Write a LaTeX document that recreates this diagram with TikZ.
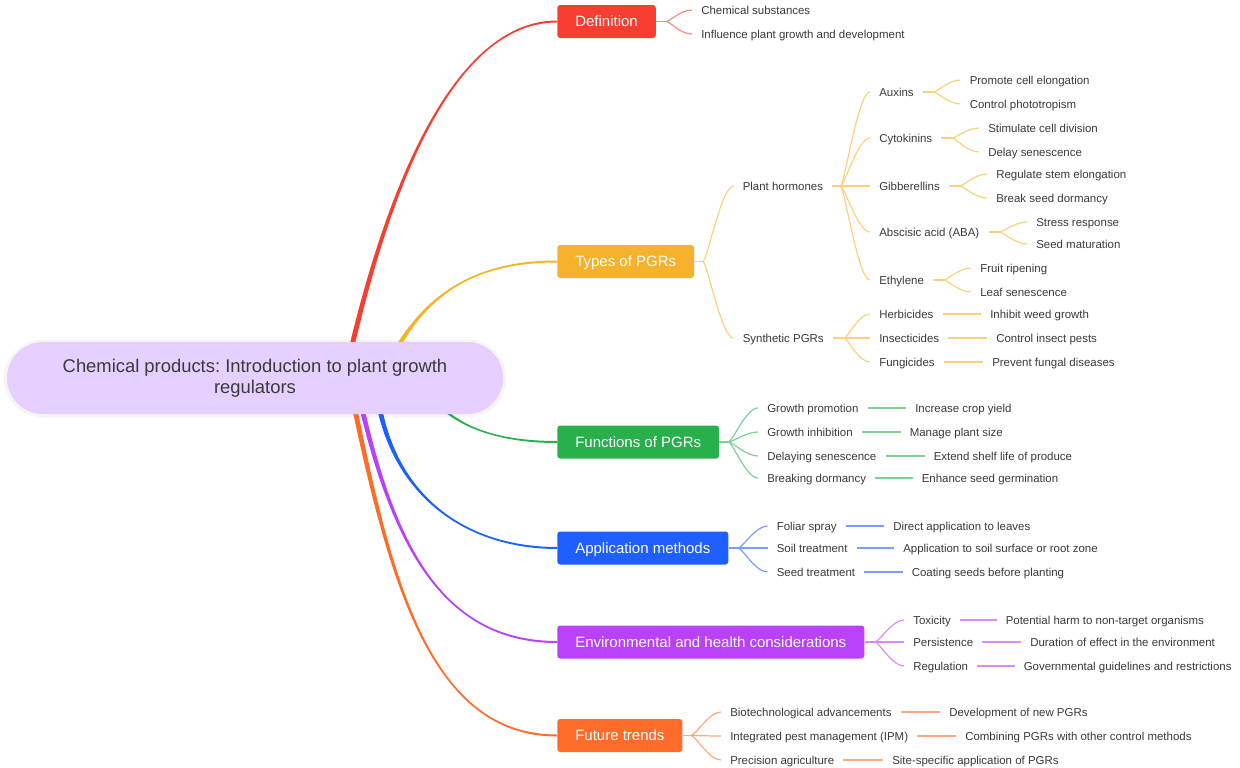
\documentclass[tikz,border=0pt]{standalone}
\usepackage{fontspec}
\setmainfont{Liberation Sans}
\usetikzlibrary{calc}
\frenchspacing
\definecolor{cred}{RGB}{247,62,49}
\definecolor{cyel}{RGB}{246,178,42}
\definecolor{cgrn}{RGB}{40,176,76}
\definecolor{cblu}{RGB}{30,95,255}
\definecolor{cpur}{RGB}{185,65,248}
\definecolor{cora}{RGB}{255,108,42}
\definecolor{rootfill}{RGB}{230,208,255}
\definecolor{txt}{RGB}{58,58,58}
% colour, start, control 1, control 2, end node, end offset A, end offset B
\newcommand\mainbranch[7]{%
  \fill[#1] ($(#2)+(-2.6,0)$) .. controls ($(#3)+(-1.6,0)$) and ($(#4)+(#6)$) .. ($(#5.west)+(#6)$)
    -- ($(#5.west)+(#7)$) .. controls ($(#4)+(#7)$) and ($(#3)+(1.6,0)$) .. ($(#2)+(2.6,0)$) -- cycle;}
\begin{document}
\begin{tikzpicture}[x=0.75pt,y=-0.75pt,
  leaf/.style={anchor=west, inner xsep=6.75pt, inner ysep=2pt, text=txt,
    text height=6.2pt, text depth=0.2pt,
    font=\fontsize{8.6pt}{10pt}\selectfont},
  box/.style={anchor=west, fill=#1, text=white, rounded corners=2.25pt, inner xsep=13.5pt,
    text height=8pt, text depth=0pt,
    minimum height=24.75pt, font=\fontsize{11.25pt}{13pt}\selectfont},
  lk/.style={draw=#1!60, line width=0.9pt},
]
\useasboundingbox (0,0) rectangle (1240,768);

% root shadow
\node[fill=black!4, rounded corners=29pt, minimum width=377pt, minimum height=58pt] (rootshadow) at (255,378.5) {};

% branch boxes
\node[box=cred] (def) at (557,21.5) {Definition};
\node[box=cyel] (typ) at (557,261.5) {Types of PGRs};
\node[box=cgrn] (fun) at (557,442) {Functions of PGRs};
\node[box=cblu] (app) at (557,548) {Application methods};
\node[box=cpur] (env) at (557,642) {Environmental and health considerations};
\node[box=cora] (fut) at (557,735.5) {Future trends};

% main curves (start points lie under the root)
\coordinate (s1) at (351,350);
\coordinate (s2) at (396,350);
\coordinate (s3) at (430,395);
\coordinate (s4) at (378,400);
\coordinate (s5) at (360,400);
\coordinate (s6) at (353,400);
\mainbranch{cred}{s1}{400,140}{470,21.5}{def}{0,-1}{0,1}
\mainbranch{cyel}{s2}{430,290}{480,261.5}{typ}{0,-1}{0,1}
\mainbranch{cgrn}{s3}{455,428}{500,442}{fun}{0,1}{0,-1}
\mainbranch{cblu}{s4}{395,500}{470,548}{app}{0,1}{0,-1}
\mainbranch{cpur}{s5}{392,540}{440,642}{env}{0,1}{0,-1}
\mainbranch{cora}{s6}{390,580}{430,735.5}{fut}{0,1}{0,-1}

% root
\node[fill=rootfill, rounded corners=27pt, minimum width=372pt, minimum height=54pt, text=txt,
  align=center, font=\fontsize{13.8pt}{15.75pt}\selectfont] (root) at (255,378)
  {Chemical products: Introduction to plant growth\\regulators};

% ---------- Definition ----------
\node[leaf] (d1) at (692,10) {Chemical substances};
\node[leaf] (d2) at (692,34) {Influence plant growth and development};
\coordinate (defF) at ($(def.east)+(10,0)$);
\draw[lk=cred] (def.east) -- (defF);
\foreach \c in {d1,d2} \draw[lk=cred] (defF) .. controls +(4,0) and +(-12,0) .. (\c.west);

% ---------- Types of PGRs ----------
\node[leaf] (ph) at (733.5,186) {Plant hormones};
\node[leaf] (sy) at (733.5,338) {Synthetic PGRs};
\coordinate (typF) at ($(typ.east)+(8.5,0)$);
\draw[lk=cyel] (typ.east) -- (typF);
\foreach \c in {ph,sy} \draw[lk=cyel] (typF) .. controls +(4,0) and +(-12,0) .. (\c.west);

\node[leaf] (aux) at (870,92) {Auxins};
\node[leaf] (cyt) at (870,138) {Cytokinins};
\node[leaf] (gib) at (870,186) {Gibberellins};
\node[leaf] (aba) at (870,232) {Abscisic acid (ABA)};
\node[leaf] (eth) at (870,280) {Ethylene};
\coordinate (phF) at ($(ph.east)+(8,0)$);
\draw[lk=cyel] (ph.east) -- (phF);
\foreach \c in {aux,cyt,gib,aba,eth} \draw[lk=cyel] (phF) .. controls +(4,0) and +(-12,0) .. (\c.west);

\node[leaf] (aux1) at (960.5,80) {Promote cell elongation};
\node[leaf] (aux2) at (960.5,104) {Control phototropism};
\node[leaf] (cyt1) at (979,128) {Stimulate cell division};
\node[leaf] (cyt2) at (979,152) {Delay senescence};
\node[leaf] (gib1) at (987,174) {Regulate stem elongation};
\node[leaf] (gib2) at (987,198) {Break seed dormancy};
\node[leaf] (aba1) at (1027,222) {Stress response};
\node[leaf] (aba2) at (1027,244) {Seed maturation};
\node[leaf] (eth1) at (971,268) {Fruit ripening};
\node[leaf] (eth2) at (971,292) {Leaf senescence};
\foreach \p in {aux,cyt,gib,aba,eth}{
  \coordinate (\p F) at ($(\p.east)+(10.5,0)$);
  \draw[lk=cyel] (\p.east) -- (\p F);
  \foreach \c in {1,2} \draw[lk=cyel] (\p F) .. controls +(4,0) and +(-12,0) .. (\p\c.west);
}

\node[leaf] (her) at (870,314) {Herbicides};
\node[leaf] (ins) at (870,338) {Insecticides};
\node[leaf] (fng) at (870,362) {Fungicides};
\coordinate (syF) at ($(sy.east)+(11,0)$);
\draw[lk=cyel] (sy.east) -- (syF);
\foreach \c in {her,ins,fng} \draw[lk=cyel] (syF) .. controls +(4,0) and +(-12,0) .. (\c.west);
\node[leaf] (her1) at (981,314) {Inhibit weed growth};
\node[leaf] (ins1) at (987,338) {Control insect pests};
\node[leaf] (fng1) at (983,362) {Prevent fungal diseases};
\foreach \c in {her,ins,fng} \draw[lk=cyel] (\c.east) -- (\c1.west);

% ---------- Functions ----------
\node[leaf] (f1) at (758,408) {Growth promotion};
\node[leaf] (f2) at (758,432) {Growth inhibition};
\node[leaf] (f3) at (758,456) {Delaying senescence};
\node[leaf] (f4) at (758,478) {Breaking dormancy};
\node[leaf] (f1a) at (906,408) {Increase crop yield};
\node[leaf] (f2a) at (900.5,432) {Manage plant size};
\node[leaf] (f3a) at (924.5,456) {Extend shelf life of produce};
\node[leaf] (f4a) at (912.5,478) {Enhance seed germination};
\coordinate (funF) at ($(fun.east)+(9,0)$);
\draw[lk=cgrn] (fun.east) -- (funF);
\foreach \c in {f1,f2,f3,f4}{
  \draw[lk=cgrn] (funF) .. controls +(4,0) and +(-12,0) .. (\c.west);
  \draw[lk=cgrn] (\c.east) -- (\c a.west);
}

% ---------- Application ----------
\node[leaf] (a1) at (767.5,526) {Foliar spray};
\node[leaf] (a2) at (767.5,548) {Soil treatment};
\node[leaf] (a3) at (767.5,572) {Seed treatment};
\node[leaf] (a1a) at (884,526) {Direct application to leaves};
\node[leaf] (a2a) at (894,548) {Application to soil surface or root zone};
\node[leaf] (a3a) at (902.5,572) {Coating seeds before planting};
\coordinate (appF) at ($(app.east)+(9.5,0)$);
\draw[lk=cblu] (app.east) -- (appF);
\foreach \c in {a1,a2,a3}{
  \draw[lk=cblu] (appF) .. controls +(4,0) and +(-12,0) .. (\c.west);
  \draw[lk=cblu] (\c.east) -- (\c a.west);
}

% ---------- Environment ----------
\node[leaf] (e1) at (904,620) {Toxicity};
\node[leaf] (e2) at (904,642) {Persistence};
\node[leaf] (e3) at (904,666) {Regulation};
\node[leaf] (e1a) at (996.5,620) {Potential harm to non-target organisms};
\node[leaf] (e2a) at (1021,642) {Duration of effect in the environment};
\node[leaf] (e3a) at (1014.5,666) {Governmental guidelines and restrictions};
\coordinate (envF) at ($(env.east)+(10.5,0)$);
\draw[lk=cpur] (env.east) -- (envF);
\foreach \c in {e1,e2,e3}{
  \draw[lk=cpur] (envF) .. controls +(4,0) and +(-12,0) .. (\c.west);
  \draw[lk=cpur] (\c.east) -- (\c a.west);
}

% ---------- Future ----------
\node[leaf] (t1) at (721,712) {Biotechnological advancements};
\node[leaf] (t2) at (721,736) {Integrated pest management (IPM)};
\node[leaf] (t3) at (721,760) {Precision agriculture};
\node[leaf] (t1a) at (940,712) {Development of new PGRs};
\node[leaf] (t2a) at (956,736) {Combining PGRs with other control methods};
\node[leaf] (t3a) at (883,760) {Site-specific application of PGRs};
\coordinate (futF) at ($(fut.east)+(8.5,0)$);
\draw[lk=cora] (fut.east) -- (futF);
\foreach \c in {t1,t2,t3}{
  \draw[lk=cora] (futF) .. controls +(4,0) and +(-12,0) .. (\c.west);
  \draw[lk=cora] (\c.east) -- (\c a.west);
}
\end{tikzpicture}
\end{document}
